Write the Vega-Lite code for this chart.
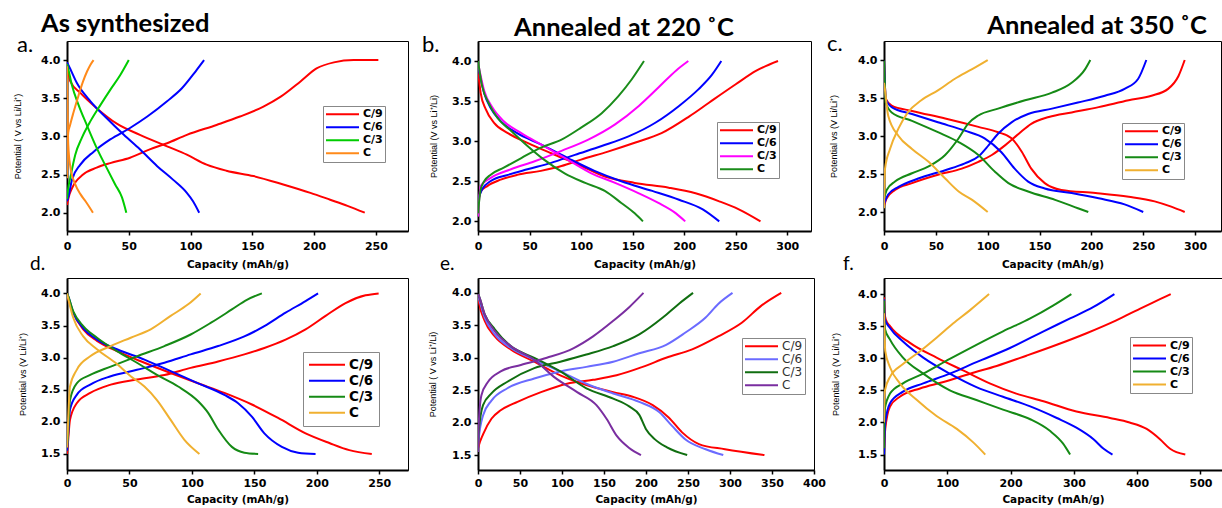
{
"$schema": "https://vega.github.io/schema/vega-lite/v6.json",
"background": "white",
"padding": {"left": 12, "top": 11, "right": 0, "bottom": 0},
"columns": 3,
"spacing": {"row": 47, "column": 70},
"bounds": "flush",
"align": "each",
"resolve": {"scale": {"color": "independent", "x": "independent", "y": "independent"}, "legend": {"color": "independent"}},
"datasets": {
"a": [
{"rate":"C/9","seg":"charge","cap":0,"v":2.1},{"rate":"C/9","seg":"charge","cap":1.3,"v":2.2},{"rate":"C/9","seg":"charge","cap":4,"v":2.32},{"rate":"C/9","seg":"charge","cap":13,"v":2.5},{"rate":"C/9","seg":"charge","cap":24,"v":2.59},{"rate":"C/9","seg":"charge","cap":35,"v":2.65},{"rate":"C/9","seg":"charge","cap":51,"v":2.72},{"rate":"C/9","seg":"charge","cap":67,"v":2.83},{"rate":"C/9","seg":"charge","cap":81,"v":2.91},{"rate":"C/9","seg":"charge","cap":97,"v":3.02},{"rate":"C/9","seg":"charge","cap":121,"v":3.15},{"rate":"C/9","seg":"charge","cap":140,"v":3.26},{"rate":"C/9","seg":"charge","cap":159,"v":3.39},{"rate":"C/9","seg":"charge","cap":173,"v":3.52},{"rate":"C/9","seg":"charge","cap":189,"v":3.72},{"rate":"C/9","seg":"charge","cap":202,"v":3.89},{"rate":"C/9","seg":"charge","cap":216,"v":3.97},{"rate":"C/9","seg":"charge","cap":232,"v":4.0},{"rate":"C/9","seg":"charge","cap":252,"v":4.0},
{"rate":"C/9","seg":"discharge","cap":0,"v":3.95},{"rate":"C/9","seg":"discharge","cap":1,"v":3.85},{"rate":"C/9","seg":"discharge","cap":2.7,"v":3.72},{"rate":"C/9","seg":"discharge","cap":10.8,"v":3.57},{"rate":"C/9","seg":"discharge","cap":24,"v":3.37},{"rate":"C/9","seg":"discharge","cap":40,"v":3.17},{"rate":"C/9","seg":"discharge","cap":59,"v":3.02},{"rate":"C/9","seg":"discharge","cap":81,"v":2.87},{"rate":"C/9","seg":"discharge","cap":97,"v":2.76},{"rate":"C/9","seg":"discharge","cap":113,"v":2.63},{"rate":"C/9","seg":"discharge","cap":129,"v":2.55},{"rate":"C/9","seg":"discharge","cap":151,"v":2.48},{"rate":"C/9","seg":"discharge","cap":175,"v":2.37},{"rate":"C/9","seg":"discharge","cap":197,"v":2.26},{"rate":"C/9","seg":"discharge","cap":213,"v":2.17},{"rate":"C/9","seg":"discharge","cap":227,"v":2.09},{"rate":"C/9","seg":"discharge","cap":241,"v":2.0},
{"rate":"C/6","seg":"charge","cap":0,"v":2.15},{"rate":"C/6","seg":"charge","cap":1.3,"v":2.22},{"rate":"C/6","seg":"charge","cap":4,"v":2.43},{"rate":"C/6","seg":"charge","cap":10.8,"v":2.63},{"rate":"C/6","seg":"charge","cap":21.6,"v":2.8},{"rate":"C/6","seg":"charge","cap":35,"v":2.96},{"rate":"C/6","seg":"charge","cap":51,"v":3.11},{"rate":"C/6","seg":"charge","cap":65,"v":3.26},{"rate":"C/6","seg":"charge","cap":81,"v":3.46},{"rate":"C/6","seg":"charge","cap":93,"v":3.63},{"rate":"C/6","seg":"charge","cap":104,"v":3.85},{"rate":"C/6","seg":"charge","cap":111,"v":4.0},
{"rate":"C/6","seg":"discharge","cap":0,"v":3.97},{"rate":"C/6","seg":"discharge","cap":1.3,"v":3.93},{"rate":"C/6","seg":"discharge","cap":8,"v":3.7},{"rate":"C/6","seg":"discharge","cap":19,"v":3.46},{"rate":"C/6","seg":"discharge","cap":32,"v":3.24},{"rate":"C/6","seg":"discharge","cap":46,"v":3.02},{"rate":"C/6","seg":"discharge","cap":59,"v":2.83},{"rate":"C/6","seg":"discharge","cap":73,"v":2.61},{"rate":"C/6","seg":"discharge","cap":86,"v":2.43},{"rate":"C/6","seg":"discharge","cap":97,"v":2.26},{"rate":"C/6","seg":"discharge","cap":102,"v":2.15},{"rate":"C/6","seg":"discharge","cap":107,"v":2.0},
{"rate":"C/3","seg":"charge","cap":0,"v":2.18},{"rate":"C/3","seg":"charge","cap":0.8,"v":2.3},{"rate":"C/3","seg":"charge","cap":2.7,"v":2.46},{"rate":"C/3","seg":"charge","cap":6.7,"v":2.76},{"rate":"C/3","seg":"charge","cap":12,"v":2.98},{"rate":"C/3","seg":"charge","cap":19,"v":3.2},{"rate":"C/3","seg":"charge","cap":27,"v":3.41},{"rate":"C/3","seg":"charge","cap":35,"v":3.61},{"rate":"C/3","seg":"charge","cap":43,"v":3.8},{"rate":"C/3","seg":"charge","cap":50,"v":4.0},
{"rate":"C/3","seg":"discharge","cap":0,"v":3.95},{"rate":"C/3","seg":"discharge","cap":0.8,"v":3.9},{"rate":"C/3","seg":"discharge","cap":4,"v":3.67},{"rate":"C/3","seg":"discharge","cap":9.4,"v":3.41},{"rate":"C/3","seg":"discharge","cap":16,"v":3.15},{"rate":"C/3","seg":"discharge","cap":24,"v":2.85},{"rate":"C/3","seg":"discharge","cap":32,"v":2.59},{"rate":"C/3","seg":"discharge","cap":39,"v":2.37},{"rate":"C/3","seg":"discharge","cap":44.5,"v":2.2},{"rate":"C/3","seg":"discharge","cap":48,"v":2.0},
{"rate":"C","seg":"charge","cap":0,"v":2.45},{"rate":"C","seg":"charge","cap":0.4,"v":2.8},{"rate":"C","seg":"charge","cap":1,"v":3.05},{"rate":"C","seg":"charge","cap":2.5,"v":3.15},{"rate":"C","seg":"charge","cap":5,"v":3.3},{"rate":"C","seg":"charge","cap":9.4,"v":3.54},{"rate":"C","seg":"charge","cap":13,"v":3.72},{"rate":"C","seg":"charge","cap":16.2,"v":3.85},{"rate":"C","seg":"charge","cap":19,"v":3.94},{"rate":"C","seg":"charge","cap":21.5,"v":4.0},
{"rate":"C","seg":"discharge","cap":0,"v":3.92},{"rate":"C","seg":"discharge","cap":0.5,"v":3.3},{"rate":"C","seg":"discharge","cap":1,"v":2.9},{"rate":"C","seg":"discharge","cap":2.7,"v":2.6},{"rate":"C","seg":"discharge","cap":6.7,"v":2.37},{"rate":"C","seg":"discharge","cap":11,"v":2.24},{"rate":"C","seg":"discharge","cap":15,"v":2.15},{"rate":"C","seg":"discharge","cap":21,"v":2.0}
],
"b": [
{"rate":"C/9","seg":"charge","cap":0,"v":2.23},{"rate":"C/9","seg":"charge","cap":2.6,"v":2.37},{"rate":"C/9","seg":"charge","cap":9,"v":2.44},{"rate":"C/9","seg":"charge","cap":22,"v":2.52},{"rate":"C/9","seg":"charge","cap":38,"v":2.58},{"rate":"C/9","seg":"charge","cap":61,"v":2.63},{"rate":"C/9","seg":"charge","cap":81,"v":2.69},{"rate":"C/9","seg":"charge","cap":100,"v":2.77},{"rate":"C/9","seg":"charge","cap":126,"v":2.87},{"rate":"C/9","seg":"charge","cap":152,"v":2.98},{"rate":"C/9","seg":"charge","cap":178,"v":3.1},{"rate":"C/9","seg":"charge","cap":205,"v":3.31},{"rate":"C/9","seg":"charge","cap":224,"v":3.48},{"rate":"C/9","seg":"charge","cap":250,"v":3.71},{"rate":"C/9","seg":"charge","cap":270,"v":3.88},{"rate":"C/9","seg":"charge","cap":291,"v":4.0},
{"rate":"C/9","seg":"discharge","cap":0,"v":3.88},{"rate":"C/9","seg":"discharge","cap":2.6,"v":3.6},{"rate":"C/9","seg":"discharge","cap":7.5,"v":3.4},{"rate":"C/9","seg":"discharge","cap":15.6,"v":3.23},{"rate":"C/9","seg":"discharge","cap":29,"v":3.1},{"rate":"C/9","seg":"discharge","cap":48,"v":2.98},{"rate":"C/9","seg":"discharge","cap":71,"v":2.85},{"rate":"C/9","seg":"discharge","cap":97,"v":2.71},{"rate":"C/9","seg":"discharge","cap":123,"v":2.56},{"rate":"C/9","seg":"discharge","cap":152,"v":2.48},{"rate":"C/9","seg":"discharge","cap":185,"v":2.42},{"rate":"C/9","seg":"discharge","cap":211,"v":2.35},{"rate":"C/9","seg":"discharge","cap":234,"v":2.25},{"rate":"C/9","seg":"discharge","cap":253,"v":2.15},{"rate":"C/9","seg":"discharge","cap":274,"v":2.0},
{"rate":"C/6","seg":"charge","cap":0,"v":2.27},{"rate":"C/6","seg":"charge","cap":4,"v":2.4},{"rate":"C/6","seg":"charge","cap":12,"v":2.5},{"rate":"C/6","seg":"charge","cap":29,"v":2.58},{"rate":"C/6","seg":"charge","cap":48,"v":2.65},{"rate":"C/6","seg":"charge","cap":71,"v":2.73},{"rate":"C/6","seg":"charge","cap":94,"v":2.83},{"rate":"C/6","seg":"charge","cap":120,"v":2.94},{"rate":"C/6","seg":"charge","cap":146,"v":3.06},{"rate":"C/6","seg":"charge","cap":172,"v":3.23},{"rate":"C/6","seg":"charge","cap":195,"v":3.44},{"rate":"C/6","seg":"charge","cap":214,"v":3.65},{"rate":"C/6","seg":"charge","cap":227,"v":3.83},{"rate":"C/6","seg":"charge","cap":236,"v":4.0},
{"rate":"C/6","seg":"discharge","cap":0,"v":3.94},{"rate":"C/6","seg":"discharge","cap":6,"v":3.6},{"rate":"C/6","seg":"discharge","cap":12,"v":3.42},{"rate":"C/6","seg":"discharge","cap":22,"v":3.25},{"rate":"C/6","seg":"discharge","cap":38,"v":3.1},{"rate":"C/6","seg":"discharge","cap":61,"v":2.96},{"rate":"C/6","seg":"discharge","cap":87,"v":2.79},{"rate":"C/6","seg":"discharge","cap":113,"v":2.63},{"rate":"C/6","seg":"discharge","cap":139,"v":2.5},{"rate":"C/6","seg":"discharge","cap":169,"v":2.38},{"rate":"C/6","seg":"discharge","cap":195,"v":2.27},{"rate":"C/6","seg":"discharge","cap":218,"v":2.15},{"rate":"C/6","seg":"discharge","cap":234,"v":2.0},
{"rate":"C/3","seg":"charge","cap":0,"v":2.06},{"rate":"C/3","seg":"charge","cap":2.6,"v":2.44},{"rate":"C/3","seg":"charge","cap":12,"v":2.54},{"rate":"C/3","seg":"charge","cap":32,"v":2.65},{"rate":"C/3","seg":"charge","cap":55,"v":2.75},{"rate":"C/3","seg":"charge","cap":81,"v":2.88},{"rate":"C/3","seg":"charge","cap":107,"v":3.02},{"rate":"C/3","seg":"charge","cap":133,"v":3.21},{"rate":"C/3","seg":"charge","cap":156,"v":3.44},{"rate":"C/3","seg":"charge","cap":175,"v":3.67},{"rate":"C/3","seg":"charge","cap":192,"v":3.88},{"rate":"C/3","seg":"charge","cap":204,"v":4.0},
{"rate":"C/3","seg":"discharge","cap":0,"v":3.98},{"rate":"C/3","seg":"discharge","cap":6,"v":3.63},{"rate":"C/3","seg":"discharge","cap":14,"v":3.42},{"rate":"C/3","seg":"discharge","cap":25,"v":3.25},{"rate":"C/3","seg":"discharge","cap":42,"v":3.1},{"rate":"C/3","seg":"discharge","cap":64,"v":2.94},{"rate":"C/3","seg":"discharge","cap":87,"v":2.77},{"rate":"C/3","seg":"discharge","cap":110,"v":2.6},{"rate":"C/3","seg":"discharge","cap":133,"v":2.48},{"rate":"C/3","seg":"discharge","cap":156,"v":2.35},{"rate":"C/3","seg":"discharge","cap":175,"v":2.23},{"rate":"C/3","seg":"discharge","cap":192,"v":2.1},{"rate":"C/3","seg":"discharge","cap":201,"v":2.0},
{"rate":"C","seg":"charge","cap":0,"v":2.1},{"rate":"C","seg":"charge","cap":2.6,"v":2.4},{"rate":"C","seg":"charge","cap":6,"v":2.5},{"rate":"C","seg":"charge","cap":12,"v":2.58},{"rate":"C","seg":"charge","cap":25,"v":2.67},{"rate":"C","seg":"charge","cap":42,"v":2.79},{"rate":"C","seg":"charge","cap":61,"v":2.92},{"rate":"C","seg":"charge","cap":81,"v":3.02},{"rate":"C","seg":"charge","cap":100,"v":3.17},{"rate":"C","seg":"charge","cap":120,"v":3.35},{"rate":"C","seg":"charge","cap":136,"v":3.56},{"rate":"C","seg":"charge","cap":149,"v":3.77},{"rate":"C","seg":"charge","cap":161,"v":4.0},
{"rate":"C","seg":"discharge","cap":0,"v":4.0},{"rate":"C","seg":"discharge","cap":4,"v":3.69},{"rate":"C","seg":"discharge","cap":11,"v":3.46},{"rate":"C","seg":"discharge","cap":19,"v":3.29},{"rate":"C","seg":"discharge","cap":32,"v":3.13},{"rate":"C","seg":"discharge","cap":48,"v":2.94},{"rate":"C","seg":"discharge","cap":64,"v":2.77},{"rate":"C","seg":"discharge","cap":84,"v":2.6},{"rate":"C","seg":"discharge","cap":104,"v":2.48},{"rate":"C","seg":"discharge","cap":123,"v":2.38},{"rate":"C","seg":"discharge","cap":139,"v":2.23},{"rate":"C","seg":"discharge","cap":152,"v":2.1},{"rate":"C","seg":"discharge","cap":160,"v":2.0}
],
"c": [
{"rate":"C/9","seg":"charge","cap":0,"v":2.08},{"rate":"C/9","seg":"charge","cap":2.6,"v":2.18},{"rate":"C/9","seg":"charge","cap":10.6,"v":2.29},{"rate":"C/9","seg":"charge","cap":27,"v":2.38},{"rate":"C/9","seg":"charge","cap":52,"v":2.49},{"rate":"C/9","seg":"charge","cap":75,"v":2.57},{"rate":"C/9","seg":"charge","cap":91,"v":2.66},{"rate":"C/9","seg":"charge","cap":104,"v":2.75},{"rate":"C/9","seg":"charge","cap":117,"v":2.88},{"rate":"C/9","seg":"charge","cap":130,"v":3.03},{"rate":"C/9","seg":"charge","cap":142,"v":3.16},{"rate":"C/9","seg":"charge","cap":159,"v":3.25},{"rate":"C/9","seg":"charge","cap":181,"v":3.31},{"rate":"C/9","seg":"charge","cap":207,"v":3.38},{"rate":"C/9","seg":"charge","cap":236,"v":3.47},{"rate":"C/9","seg":"charge","cap":258,"v":3.53},{"rate":"C/9","seg":"charge","cap":274,"v":3.62},{"rate":"C/9","seg":"charge","cap":284,"v":3.79},{"rate":"C/9","seg":"charge","cap":290,"v":4.0},
{"rate":"C/9","seg":"discharge","cap":0,"v":3.97},{"rate":"C/9","seg":"discharge","cap":0.8,"v":3.7},{"rate":"C/9","seg":"discharge","cap":1.6,"v":3.49},{"rate":"C/9","seg":"discharge","cap":7.4,"v":3.4},{"rate":"C/9","seg":"discharge","cap":27,"v":3.33},{"rate":"C/9","seg":"discharge","cap":59,"v":3.23},{"rate":"C/9","seg":"discharge","cap":91,"v":3.12},{"rate":"C/9","seg":"discharge","cap":110,"v":3.05},{"rate":"C/9","seg":"discharge","cap":123,"v":2.97},{"rate":"C/9","seg":"discharge","cap":133,"v":2.79},{"rate":"C/9","seg":"discharge","cap":142,"v":2.57},{"rate":"C/9","seg":"discharge","cap":155,"v":2.38},{"rate":"C/9","seg":"discharge","cap":171,"v":2.29},{"rate":"C/9","seg":"discharge","cap":204,"v":2.25},{"rate":"C/9","seg":"discharge","cap":236,"v":2.2},{"rate":"C/9","seg":"discharge","cap":261,"v":2.14},{"rate":"C/9","seg":"discharge","cap":277,"v":2.07},{"rate":"C/9","seg":"discharge","cap":290,"v":2.0},
{"rate":"C/6","seg":"charge","cap":0,"v":2.1},{"rate":"C/6","seg":"charge","cap":4,"v":2.23},{"rate":"C/6","seg":"charge","cap":14,"v":2.33},{"rate":"C/6","seg":"charge","cap":33,"v":2.44},{"rate":"C/6","seg":"charge","cap":59,"v":2.55},{"rate":"C/6","seg":"charge","cap":78,"v":2.64},{"rate":"C/6","seg":"charge","cap":91,"v":2.73},{"rate":"C/6","seg":"charge","cap":101,"v":2.88},{"rate":"C/6","seg":"charge","cap":110,"v":3.03},{"rate":"C/6","seg":"charge","cap":123,"v":3.18},{"rate":"C/6","seg":"charge","cap":139,"v":3.29},{"rate":"C/6","seg":"charge","cap":162,"v":3.36},{"rate":"C/6","seg":"charge","cap":187,"v":3.44},{"rate":"C/6","seg":"charge","cap":213,"v":3.53},{"rate":"C/6","seg":"charge","cap":232,"v":3.62},{"rate":"C/6","seg":"charge","cap":245,"v":3.75},{"rate":"C/6","seg":"charge","cap":253,"v":4.0},
{"rate":"C/6","seg":"discharge","cap":0,"v":3.99},{"rate":"C/6","seg":"discharge","cap":0.8,"v":3.7},{"rate":"C/6","seg":"discharge","cap":1.6,"v":3.49},{"rate":"C/6","seg":"discharge","cap":7.4,"v":3.38},{"rate":"C/6","seg":"discharge","cap":27,"v":3.29},{"rate":"C/6","seg":"discharge","cap":52,"v":3.18},{"rate":"C/6","seg":"discharge","cap":78,"v":3.07},{"rate":"C/6","seg":"discharge","cap":97,"v":2.97},{"rate":"C/6","seg":"discharge","cap":113,"v":2.79},{"rate":"C/6","seg":"discharge","cap":126,"v":2.57},{"rate":"C/6","seg":"discharge","cap":139,"v":2.4},{"rate":"C/6","seg":"discharge","cap":155,"v":2.31},{"rate":"C/6","seg":"discharge","cap":181,"v":2.25},{"rate":"C/6","seg":"discharge","cap":207,"v":2.18},{"rate":"C/6","seg":"discharge","cap":232,"v":2.1},{"rate":"C/6","seg":"discharge","cap":250,"v":2.0},
{"rate":"C/3","seg":"charge","cap":0,"v":2.18},{"rate":"C/3","seg":"charge","cap":2.6,"v":2.29},{"rate":"C/3","seg":"charge","cap":10.6,"v":2.4},{"rate":"C/3","seg":"charge","cap":27,"v":2.51},{"rate":"C/3","seg":"charge","cap":43,"v":2.6},{"rate":"C/3","seg":"charge","cap":59,"v":2.75},{"rate":"C/3","seg":"charge","cap":72,"v":2.97},{"rate":"C/3","seg":"charge","cap":81,"v":3.16},{"rate":"C/3","seg":"charge","cap":91,"v":3.27},{"rate":"C/3","seg":"charge","cap":110,"v":3.36},{"rate":"C/3","seg":"charge","cap":136,"v":3.47},{"rate":"C/3","seg":"charge","cap":162,"v":3.57},{"rate":"C/3","seg":"charge","cap":181,"v":3.7},{"rate":"C/3","seg":"charge","cap":194,"v":3.88},{"rate":"C/3","seg":"charge","cap":199,"v":4.0},
{"rate":"C/3","seg":"discharge","cap":0,"v":3.99},{"rate":"C/3","seg":"discharge","cap":0.8,"v":3.7},{"rate":"C/3","seg":"discharge","cap":1.6,"v":3.44},{"rate":"C/3","seg":"discharge","cap":7.4,"v":3.31},{"rate":"C/3","seg":"discharge","cap":27,"v":3.2},{"rate":"C/3","seg":"discharge","cap":52,"v":3.05},{"rate":"C/3","seg":"discharge","cap":72,"v":2.92},{"rate":"C/3","seg":"discharge","cap":91,"v":2.75},{"rate":"C/3","seg":"discharge","cap":107,"v":2.53},{"rate":"C/3","seg":"discharge","cap":120,"v":2.38},{"rate":"C/3","seg":"discharge","cap":139,"v":2.27},{"rate":"C/3","seg":"discharge","cap":165,"v":2.16},{"rate":"C/3","seg":"discharge","cap":187,"v":2.05},{"rate":"C/3","seg":"discharge","cap":197,"v":2.0},
{"rate":"C","seg":"charge","cap":0,"v":2.05},{"rate":"C","seg":"charge","cap":1,"v":2.57},{"rate":"C","seg":"charge","cap":5.8,"v":2.83},{"rate":"C","seg":"charge","cap":14,"v":3.1},{"rate":"C","seg":"charge","cap":23,"v":3.31},{"rate":"C","seg":"charge","cap":36,"v":3.47},{"rate":"C","seg":"charge","cap":52,"v":3.6},{"rate":"C","seg":"charge","cap":68,"v":3.75},{"rate":"C","seg":"charge","cap":85,"v":3.88},{"rate":"C","seg":"charge","cap":100,"v":4.0},
{"rate":"C","seg":"discharge","cap":0,"v":3.7},{"rate":"C","seg":"discharge","cap":1,"v":3.6},{"rate":"C","seg":"discharge","cap":4,"v":3.27},{"rate":"C","seg":"discharge","cap":14,"v":3.0},{"rate":"C","seg":"discharge","cap":27,"v":2.83},{"rate":"C","seg":"discharge","cap":43,"v":2.66},{"rate":"C","seg":"discharge","cap":59,"v":2.44},{"rate":"C","seg":"discharge","cap":72,"v":2.27},{"rate":"C","seg":"discharge","cap":85,"v":2.16},{"rate":"C","seg":"discharge","cap":100,"v":2.0}
],
"d": [
{"rate":"C/9","seg":"charge","cap":0,"v":1.5},{"rate":"C/9","seg":"charge","cap":0.5,"v":1.61},{"rate":"C/9","seg":"charge","cap":2.4,"v":2.03},{"rate":"C/9","seg":"charge","cap":7.8,"v":2.29},{"rate":"C/9","seg":"charge","cap":18.6,"v":2.45},{"rate":"C/9","seg":"charge","cap":35,"v":2.58},{"rate":"C/9","seg":"charge","cap":56,"v":2.66},{"rate":"C/9","seg":"charge","cap":78,"v":2.73},{"rate":"C/9","seg":"charge","cap":99,"v":2.84},{"rate":"C/9","seg":"charge","cap":121,"v":2.94},{"rate":"C/9","seg":"charge","cap":142,"v":3.05},{"rate":"C/9","seg":"charge","cap":158,"v":3.15},{"rate":"C/9","seg":"charge","cap":175,"v":3.28},{"rate":"C/9","seg":"charge","cap":191,"v":3.44},{"rate":"C/9","seg":"charge","cap":207,"v":3.65},{"rate":"C/9","seg":"charge","cap":223,"v":3.85},{"rate":"C/9","seg":"charge","cap":239,"v":3.97},{"rate":"C/9","seg":"charge","cap":249.5,"v":4.0},
{"rate":"C/9","seg":"discharge","cap":0,"v":4.0},{"rate":"C/9","seg":"discharge","cap":0.5,"v":3.96},{"rate":"C/9","seg":"discharge","cap":5,"v":3.7},{"rate":"C/9","seg":"discharge","cap":13,"v":3.44},{"rate":"C/9","seg":"discharge","cap":24,"v":3.26},{"rate":"C/9","seg":"discharge","cap":40,"v":3.1},{"rate":"C/9","seg":"discharge","cap":62,"v":2.92},{"rate":"C/9","seg":"discharge","cap":83,"v":2.76},{"rate":"C/9","seg":"discharge","cap":105,"v":2.6},{"rate":"C/9","seg":"discharge","cap":126,"v":2.45},{"rate":"C/9","seg":"discharge","cap":148,"v":2.27},{"rate":"C/9","seg":"discharge","cap":169,"v":2.06},{"rate":"C/9","seg":"discharge","cap":191,"v":1.82},{"rate":"C/9","seg":"discharge","cap":210,"v":1.67},{"rate":"C/9","seg":"discharge","cap":226,"v":1.56},{"rate":"C/9","seg":"discharge","cap":244,"v":1.5},
{"rate":"C/6","seg":"charge","cap":0,"v":1.55},{"rate":"C/6","seg":"charge","cap":0.5,"v":1.67},{"rate":"C/6","seg":"charge","cap":2.4,"v":2.19},{"rate":"C/6","seg":"charge","cap":7.8,"v":2.42},{"rate":"C/6","seg":"charge","cap":18.6,"v":2.58},{"rate":"C/6","seg":"charge","cap":35,"v":2.71},{"rate":"C/6","seg":"charge","cap":56,"v":2.81},{"rate":"C/6","seg":"charge","cap":78,"v":2.92},{"rate":"C/6","seg":"charge","cap":99,"v":3.05},{"rate":"C/6","seg":"charge","cap":121,"v":3.18},{"rate":"C/6","seg":"charge","cap":142,"v":3.33},{"rate":"C/6","seg":"charge","cap":158,"v":3.49},{"rate":"C/6","seg":"charge","cap":175,"v":3.7},{"rate":"C/6","seg":"charge","cap":191,"v":3.88},{"rate":"C/6","seg":"charge","cap":201,"v":4.0},
{"rate":"C/6","seg":"discharge","cap":0,"v":4.0},{"rate":"C/6","seg":"discharge","cap":0.5,"v":3.98},{"rate":"C/6","seg":"discharge","cap":5,"v":3.7},{"rate":"C/6","seg":"discharge","cap":13,"v":3.46},{"rate":"C/6","seg":"discharge","cap":24,"v":3.28},{"rate":"C/6","seg":"discharge","cap":40,"v":3.13},{"rate":"C/6","seg":"discharge","cap":62,"v":2.97},{"rate":"C/6","seg":"discharge","cap":83,"v":2.79},{"rate":"C/6","seg":"discharge","cap":105,"v":2.6},{"rate":"C/6","seg":"discharge","cap":126,"v":2.42},{"rate":"C/6","seg":"discharge","cap":137,"v":2.29},{"rate":"C/6","seg":"discharge","cap":148,"v":2.08},{"rate":"C/6","seg":"discharge","cap":158,"v":1.82},{"rate":"C/6","seg":"discharge","cap":172,"v":1.61},{"rate":"C/6","seg":"discharge","cap":185,"v":1.52},{"rate":"C/6","seg":"discharge","cap":199,"v":1.5},
{"rate":"C/3","seg":"charge","cap":0,"v":1.6},{"rate":"C/3","seg":"charge","cap":0.5,"v":1.72},{"rate":"C/3","seg":"charge","cap":2.4,"v":2.34},{"rate":"C/3","seg":"charge","cap":7.8,"v":2.6},{"rate":"C/3","seg":"charge","cap":18.6,"v":2.73},{"rate":"C/3","seg":"charge","cap":35,"v":2.86},{"rate":"C/3","seg":"charge","cap":56,"v":3.02},{"rate":"C/3","seg":"charge","cap":78,"v":3.18},{"rate":"C/3","seg":"charge","cap":99,"v":3.36},{"rate":"C/3","seg":"charge","cap":115,"v":3.54},{"rate":"C/3","seg":"charge","cap":132,"v":3.75},{"rate":"C/3","seg":"charge","cap":144,"v":3.9},{"rate":"C/3","seg":"charge","cap":156,"v":4.0},
{"rate":"C/3","seg":"discharge","cap":0,"v":4.0},{"rate":"C/3","seg":"discharge","cap":0.5,"v":3.98},{"rate":"C/3","seg":"discharge","cap":5,"v":3.72},{"rate":"C/3","seg":"discharge","cap":13,"v":3.49},{"rate":"C/3","seg":"discharge","cap":24,"v":3.31},{"rate":"C/3","seg":"discharge","cap":40,"v":3.1},{"rate":"C/3","seg":"discharge","cap":56,"v":2.92},{"rate":"C/3","seg":"discharge","cap":72,"v":2.73},{"rate":"C/3","seg":"discharge","cap":89,"v":2.55},{"rate":"C/3","seg":"discharge","cap":105,"v":2.32},{"rate":"C/3","seg":"discharge","cap":113,"v":2.14},{"rate":"C/3","seg":"discharge","cap":121,"v":1.88},{"rate":"C/3","seg":"discharge","cap":132,"v":1.61},{"rate":"C/3","seg":"discharge","cap":142,"v":1.52},{"rate":"C/3","seg":"discharge","cap":153,"v":1.5},
{"rate":"C","seg":"charge","cap":0,"v":1.6},{"rate":"C","seg":"charge","cap":0.5,"v":1.82},{"rate":"C","seg":"charge","cap":2.4,"v":2.55},{"rate":"C","seg":"charge","cap":7.8,"v":2.81},{"rate":"C","seg":"charge","cap":18.6,"v":3.02},{"rate":"C","seg":"charge","cap":35,"v":3.18},{"rate":"C","seg":"charge","cap":51,"v":3.31},{"rate":"C","seg":"charge","cap":67,"v":3.44},{"rate":"C","seg":"charge","cap":83,"v":3.65},{"rate":"C","seg":"charge","cap":97,"v":3.83},{"rate":"C","seg":"charge","cap":107,"v":4.0},
{"rate":"C","seg":"discharge","cap":0,"v":4.0},{"rate":"C","seg":"discharge","cap":0.5,"v":3.96},{"rate":"C","seg":"discharge","cap":5,"v":3.62},{"rate":"C","seg":"discharge","cap":13,"v":3.33},{"rate":"C","seg":"discharge","cap":24,"v":3.13},{"rate":"C","seg":"discharge","cap":40,"v":2.9},{"rate":"C","seg":"discharge","cap":51,"v":2.71},{"rate":"C","seg":"discharge","cap":62,"v":2.55},{"rate":"C","seg":"discharge","cap":72,"v":2.34},{"rate":"C","seg":"discharge","cap":83,"v":2.03},{"rate":"C","seg":"discharge","cap":94,"v":1.72},{"rate":"C","seg":"discharge","cap":106,"v":1.5}
],
"e": [
{"rate":"C/9","seg":"charge","cap":0,"v":1.6},{"rate":"C/9","seg":"charge","cap":0.8,"v":1.64},{"rate":"C/9","seg":"charge","cap":6,"v":1.82},{"rate":"C/9","seg":"charge","cap":16,"v":2.06},{"rate":"C/9","seg":"charge","cap":27,"v":2.19},{"rate":"C/9","seg":"charge","cap":47,"v":2.32},{"rate":"C/9","seg":"charge","cap":75,"v":2.47},{"rate":"C/9","seg":"charge","cap":106,"v":2.6},{"rate":"C/9","seg":"charge","cap":137,"v":2.66},{"rate":"C/9","seg":"charge","cap":165,"v":2.73},{"rate":"C/9","seg":"charge","cap":196,"v":2.86},{"rate":"C/9","seg":"charge","cap":224,"v":3.0},{"rate":"C/9","seg":"charge","cap":255,"v":3.13},{"rate":"C/9","seg":"charge","cap":286,"v":3.33},{"rate":"C/9","seg":"charge","cap":314,"v":3.54},{"rate":"C/9","seg":"charge","cap":337,"v":3.8},{"rate":"C/9","seg":"charge","cap":361,"v":4.0},
{"rate":"C/9","seg":"discharge","cap":0,"v":3.95},{"rate":"C/9","seg":"discharge","cap":0.8,"v":3.88},{"rate":"C/9","seg":"discharge","cap":8,"v":3.57},{"rate":"C/9","seg":"discharge","cap":20,"v":3.33},{"rate":"C/9","seg":"discharge","cap":39,"v":3.13},{"rate":"C/9","seg":"discharge","cap":67,"v":2.94},{"rate":"C/9","seg":"discharge","cap":98,"v":2.73},{"rate":"C/9","seg":"discharge","cap":129,"v":2.58},{"rate":"C/9","seg":"discharge","cap":161,"v":2.47},{"rate":"C/9","seg":"discharge","cap":184,"v":2.4},{"rate":"C/9","seg":"discharge","cap":208,"v":2.27},{"rate":"C/9","seg":"discharge","cap":227,"v":2.08},{"rate":"C/9","seg":"discharge","cap":243,"v":1.85},{"rate":"C/9","seg":"discharge","cap":263,"v":1.67},{"rate":"C/9","seg":"discharge","cap":294,"v":1.59},{"rate":"C/9","seg":"discharge","cap":341,"v":1.5},
{"rate":"C/6","seg":"charge","cap":0,"v":1.55},{"rate":"C/6","seg":"charge","cap":0.8,"v":1.74},{"rate":"C/6","seg":"charge","cap":6,"v":2.11},{"rate":"C/6","seg":"charge","cap":16,"v":2.34},{"rate":"C/6","seg":"charge","cap":35,"v":2.53},{"rate":"C/6","seg":"charge","cap":67,"v":2.68},{"rate":"C/6","seg":"charge","cap":98,"v":2.79},{"rate":"C/6","seg":"charge","cap":129,"v":2.86},{"rate":"C/6","seg":"charge","cap":161,"v":2.94},{"rate":"C/6","seg":"charge","cap":192,"v":3.07},{"rate":"C/6","seg":"charge","cap":224,"v":3.2},{"rate":"C/6","seg":"charge","cap":247,"v":3.39},{"rate":"C/6","seg":"charge","cap":271,"v":3.62},{"rate":"C/6","seg":"charge","cap":286,"v":3.83},{"rate":"C/6","seg":"charge","cap":303,"v":4.0},
{"rate":"C/6","seg":"discharge","cap":0,"v":3.97},{"rate":"C/6","seg":"discharge","cap":0.8,"v":3.93},{"rate":"C/6","seg":"discharge","cap":8,"v":3.62},{"rate":"C/6","seg":"discharge","cap":20,"v":3.36},{"rate":"C/6","seg":"discharge","cap":39,"v":3.15},{"rate":"C/6","seg":"discharge","cap":67,"v":2.97},{"rate":"C/6","seg":"discharge","cap":98,"v":2.79},{"rate":"C/6","seg":"discharge","cap":129,"v":2.6},{"rate":"C/6","seg":"discharge","cap":161,"v":2.45},{"rate":"C/6","seg":"discharge","cap":192,"v":2.32},{"rate":"C/6","seg":"discharge","cap":216,"v":2.16},{"rate":"C/6","seg":"discharge","cap":231,"v":1.95},{"rate":"C/6","seg":"discharge","cap":247,"v":1.74},{"rate":"C/6","seg":"discharge","cap":271,"v":1.59},{"rate":"C/6","seg":"discharge","cap":292,"v":1.5},
{"rate":"C/3","seg":"charge","cap":0,"v":1.6},{"rate":"C/3","seg":"charge","cap":0.8,"v":1.85},{"rate":"C/3","seg":"charge","cap":6,"v":2.27},{"rate":"C/3","seg":"charge","cap":16,"v":2.45},{"rate":"C/3","seg":"charge","cap":35,"v":2.63},{"rate":"C/3","seg":"charge","cap":67,"v":2.84},{"rate":"C/3","seg":"charge","cap":98,"v":2.94},{"rate":"C/3","seg":"charge","cap":129,"v":3.05},{"rate":"C/3","seg":"charge","cap":161,"v":3.18},{"rate":"C/3","seg":"charge","cap":192,"v":3.36},{"rate":"C/3","seg":"charge","cap":220,"v":3.62},{"rate":"C/3","seg":"charge","cap":239,"v":3.83},{"rate":"C/3","seg":"charge","cap":256,"v":4.0},
{"rate":"C/3","seg":"discharge","cap":0,"v":3.98},{"rate":"C/3","seg":"discharge","cap":0.8,"v":3.96},{"rate":"C/3","seg":"discharge","cap":8,"v":3.67},{"rate":"C/3","seg":"discharge","cap":20,"v":3.44},{"rate":"C/3","seg":"discharge","cap":39,"v":3.18},{"rate":"C/3","seg":"discharge","cap":67,"v":3.0},{"rate":"C/3","seg":"discharge","cap":98,"v":2.79},{"rate":"C/3","seg":"discharge","cap":129,"v":2.53},{"rate":"C/3","seg":"discharge","cap":161,"v":2.37},{"rate":"C/3","seg":"discharge","cap":180,"v":2.25},{"rate":"C/3","seg":"discharge","cap":192,"v":2.12},{"rate":"C/3","seg":"discharge","cap":200,"v":1.9},{"rate":"C/3","seg":"discharge","cap":210,"v":1.75},{"rate":"C/3","seg":"discharge","cap":225,"v":1.62},{"rate":"C/3","seg":"discharge","cap":249,"v":1.5},
{"rate":"C","seg":"charge","cap":0,"v":1.55},{"rate":"C","seg":"charge","cap":0.8,"v":1.95},{"rate":"C","seg":"charge","cap":4,"v":2.42},{"rate":"C","seg":"charge","cap":12,"v":2.63},{"rate":"C","seg":"charge","cap":27,"v":2.79},{"rate":"C","seg":"charge","cap":51,"v":2.89},{"rate":"C","seg":"charge","cap":82,"v":3.0},{"rate":"C","seg":"charge","cap":114,"v":3.15},{"rate":"C","seg":"charge","cap":137,"v":3.33},{"rate":"C","seg":"charge","cap":161,"v":3.57},{"rate":"C","seg":"charge","cap":180,"v":3.78},{"rate":"C","seg":"charge","cap":197,"v":4.0},
{"rate":"C","seg":"discharge","cap":0,"v":3.98},{"rate":"C","seg":"discharge","cap":0.8,"v":3.96},{"rate":"C","seg":"discharge","cap":8,"v":3.67},{"rate":"C","seg":"discharge","cap":20,"v":3.41},{"rate":"C","seg":"discharge","cap":39,"v":3.18},{"rate":"C","seg":"discharge","cap":67,"v":2.97},{"rate":"C","seg":"discharge","cap":90,"v":2.71},{"rate":"C","seg":"discharge","cap":118,"v":2.47},{"rate":"C","seg":"discharge","cap":141,"v":2.27},{"rate":"C","seg":"discharge","cap":153,"v":2.06},{"rate":"C","seg":"discharge","cap":165,"v":1.8},{"rate":"C","seg":"discharge","cap":180,"v":1.61},{"rate":"C","seg":"discharge","cap":194,"v":1.5}
],
"f": [
{"rate":"C/9","seg":"charge","cap":0,"v":1.55},{"rate":"C/9","seg":"charge","cap":2,"v":1.9},{"rate":"C/9","seg":"charge","cap":9.5,"v":2.25},{"rate":"C/9","seg":"charge","cap":25,"v":2.4},{"rate":"C/9","seg":"charge","cap":57,"v":2.53},{"rate":"C/9","seg":"charge","cap":94,"v":2.63},{"rate":"C/9","seg":"charge","cap":136,"v":2.76},{"rate":"C/9","seg":"charge","cap":178,"v":2.88},{"rate":"C/9","seg":"charge","cap":225,"v":3.04},{"rate":"C/9","seg":"charge","cap":273,"v":3.21},{"rate":"C/9","seg":"charge","cap":320,"v":3.39},{"rate":"C/9","seg":"charge","cap":367,"v":3.59},{"rate":"C/9","seg":"charge","cap":404,"v":3.77},{"rate":"C/9","seg":"charge","cap":436,"v":3.92},{"rate":"C/9","seg":"charge","cap":453,"v":4.0},
{"rate":"C/9","seg":"discharge","cap":0,"v":3.95},{"rate":"C/9","seg":"discharge","cap":1,"v":3.7},{"rate":"C/9","seg":"discharge","cap":3,"v":3.6},{"rate":"C/9","seg":"discharge","cap":9.5,"v":3.5},{"rate":"C/9","seg":"discharge","cap":41,"v":3.24},{"rate":"C/9","seg":"discharge","cap":83,"v":3.01},{"rate":"C/9","seg":"discharge","cap":125,"v":2.81},{"rate":"C/9","seg":"discharge","cap":167,"v":2.61},{"rate":"C/9","seg":"discharge","cap":209,"v":2.45},{"rate":"C/9","seg":"discharge","cap":252,"v":2.33},{"rate":"C/9","seg":"discharge","cap":304,"v":2.17},{"rate":"C/9","seg":"discharge","cap":357,"v":2.07},{"rate":"C/9","seg":"discharge","cap":388,"v":2.0},{"rate":"C/9","seg":"discharge","cap":415,"v":1.9},{"rate":"C/9","seg":"discharge","cap":436,"v":1.74},{"rate":"C/9","seg":"discharge","cap":452,"v":1.59},{"rate":"C/9","seg":"discharge","cap":476,"v":1.5},
{"rate":"C/6","seg":"charge","cap":0,"v":1.5},{"rate":"C/6","seg":"charge","cap":2,"v":2.0},{"rate":"C/6","seg":"charge","cap":9.5,"v":2.3},{"rate":"C/6","seg":"charge","cap":30,"v":2.48},{"rate":"C/6","seg":"charge","cap":62,"v":2.61},{"rate":"C/6","seg":"charge","cap":104,"v":2.76},{"rate":"C/6","seg":"charge","cap":146,"v":2.94},{"rate":"C/6","seg":"charge","cap":199,"v":3.16},{"rate":"C/6","seg":"charge","cap":252,"v":3.42},{"rate":"C/6","seg":"charge","cap":294,"v":3.62},{"rate":"C/6","seg":"charge","cap":331,"v":3.8},{"rate":"C/6","seg":"charge","cap":364,"v":4.0},
{"rate":"C/6","seg":"discharge","cap":0,"v":3.92},{"rate":"C/6","seg":"discharge","cap":1,"v":3.62},{"rate":"C/6","seg":"discharge","cap":9.5,"v":3.47},{"rate":"C/6","seg":"discharge","cap":30,"v":3.26},{"rate":"C/6","seg":"discharge","cap":62,"v":3.01},{"rate":"C/6","seg":"discharge","cap":104,"v":2.76},{"rate":"C/6","seg":"discharge","cap":146,"v":2.55},{"rate":"C/6","seg":"discharge","cap":188,"v":2.4},{"rate":"C/6","seg":"discharge","cap":231,"v":2.25},{"rate":"C/6","seg":"discharge","cap":273,"v":2.07},{"rate":"C/6","seg":"discharge","cap":304,"v":1.92},{"rate":"C/6","seg":"discharge","cap":331,"v":1.74},{"rate":"C/6","seg":"discharge","cap":347,"v":1.59},{"rate":"C/6","seg":"discharge","cap":361,"v":1.5},
{"rate":"C/3","seg":"charge","cap":0,"v":1.6},{"rate":"C/3","seg":"charge","cap":1,"v":2.2},{"rate":"C/3","seg":"charge","cap":9.5,"v":2.45},{"rate":"C/3","seg":"charge","cap":30,"v":2.61},{"rate":"C/3","seg":"charge","cap":62,"v":2.76},{"rate":"C/3","seg":"charge","cap":104,"v":2.99},{"rate":"C/3","seg":"charge","cap":146,"v":3.21},{"rate":"C/3","seg":"charge","cap":188,"v":3.42},{"rate":"C/3","seg":"charge","cap":231,"v":3.62},{"rate":"C/3","seg":"charge","cap":267,"v":3.82},{"rate":"C/3","seg":"charge","cap":296,"v":4.0},
{"rate":"C/3","seg":"discharge","cap":0,"v":3.9},{"rate":"C/3","seg":"discharge","cap":1,"v":3.47},{"rate":"C/3","seg":"discharge","cap":9.5,"v":3.29},{"rate":"C/3","seg":"discharge","cap":30,"v":3.01},{"rate":"C/3","seg":"discharge","cap":62,"v":2.76},{"rate":"C/3","seg":"discharge","cap":104,"v":2.5},{"rate":"C/3","seg":"discharge","cap":146,"v":2.35},{"rate":"C/3","seg":"discharge","cap":188,"v":2.2},{"rate":"C/3","seg":"discharge","cap":231,"v":2.05},{"rate":"C/3","seg":"discharge","cap":262,"v":1.87},{"rate":"C/3","seg":"discharge","cap":283,"v":1.67},{"rate":"C/3","seg":"discharge","cap":294,"v":1.5},
{"rate":"C","seg":"charge","cap":0,"v":2.0},{"rate":"C","seg":"charge","cap":0.5,"v":2.4},{"rate":"C","seg":"charge","cap":1.5,"v":2.5},{"rate":"C","seg":"charge","cap":9.5,"v":2.71},{"rate":"C","seg":"charge","cap":30,"v":2.91},{"rate":"C","seg":"charge","cap":57,"v":3.11},{"rate":"C","seg":"charge","cap":83,"v":3.32},{"rate":"C","seg":"charge","cap":109,"v":3.54},{"rate":"C","seg":"charge","cap":136,"v":3.75},{"rate":"C","seg":"charge","cap":166,"v":4.0},
{"rate":"C","seg":"discharge","cap":0,"v":3.7},{"rate":"C","seg":"discharge","cap":2,"v":3.11},{"rate":"C","seg":"discharge","cap":9.5,"v":2.86},{"rate":"C","seg":"discharge","cap":25,"v":2.61},{"rate":"C","seg":"discharge","cap":52,"v":2.35},{"rate":"C","seg":"discharge","cap":83,"v":2.1},{"rate":"C","seg":"discharge","cap":115,"v":1.9},{"rate":"C","seg":"discharge","cap":141,"v":1.69},{"rate":"C","seg":"discharge","cap":160,"v":1.5}
]
},
"concat": [
{
"data": {"name": "a"}, "width": 341, "height": 190,
"title": {"text": "\u200b\u00a0\u00a0\u00a0\u00a0As synthesized", "subtitle": "a.", "dx": -50, "offset": -15, "subtitlePadding": -2},
"mark": {"type": "line", "interpolate": "monotone", "strokeWidth": 2, "clip": true},
"encoding": {
"x": {"field": "cap", "type": "quantitative", "scale": {"domain": [0, 276], "nice": false, "zero": false}, "axis": {"values": [0, 50, 100, 150, 200, 250], "title": "Capacity (mAh/g)", "titleY": 33}},
"y": {"field": "v", "type": "quantitative", "scale": {"domain": [1.76, 4.25], "nice": false, "zero": false}, "axis": {"values": [2, 2.5, 3, 3.5, 4], "title": "Potential ( V vs Li/Li\u207a)", "titleX": -50}},
"color": {"field": "rate", "type": "nominal", "scale": {"domain": ["C/9", "C/6", "C/3", "C"], "range": ["#ff0000", "#0000ff", "#00cc00", "#ff8a1a"]}, "legend": {"legendX": 256, "legendY": 65}},
"detail": {"field": "seg"}
}
},
{
"data": {"name": "b"}, "width": 333, "height": 190,
"title": {"text": "\u200b\u00a0\u00a0\u00a0\u00a0\u00a0\u00a0\u00a0\u00a0\u00a0\u00a0\u00a0\u00a0\u00a0\u00a0\u00a0Annealed at 220 \u02daC", "subtitle": "b.", "dx": -56, "offset": -15, "subtitlePadding": -6},
"mark": {"type": "line", "interpolate": "monotone", "strokeWidth": 2, "clip": true},
"encoding": {
"x": {"field": "cap", "type": "quantitative", "scale": {"domain": [0, 323], "nice": false, "zero": false}, "axis": {"values": [0, 50, 100, 150, 200, 250, 300], "title": "Capacity (mAh/g)", "titleY": 33}},
"y": {"field": "v", "type": "quantitative", "scale": {"domain": [1.88, 4.25], "nice": false, "zero": false}, "axis": {"values": [2, 2.5, 3, 3.5, 4], "title": "Potential (V vs Li\u207a/Li)", "titleX": -45}},
"color": {"field": "rate", "type": "nominal", "scale": {"domain": ["C/9", "C/6", "C/3", "C"], "range": ["#ff0000", "#0000ff", "#ff00ff", "#1a8c1a"]}, "legend": {"legendX": 239, "legendY": 81}},
"detail": {"field": "seg"}
}
},
{
"data": {"name": "c"}, "width": 337, "height": 190,
"title": {"text": "\u200b\u00a0\u00a0\u00a0\u00a0\u00a0\u00a0\u00a0\u00a0\u00a0\u00a0\u00a0\u00a0\u00a0\u00a0\u00a0\u00a0\u00a0\u00a0\u00a0\u00a0\u00a0\u00a0\u00a0\u00a0\u00a0\u00a0Annealed at 350 \u02daC", "subtitle": "c.", "dx": -57, "offset": -14, "subtitlePadding": -5},
"mark": {"type": "line", "interpolate": "monotone", "strokeWidth": 2, "clip": true},
"encoding": {
"x": {"field": "cap", "type": "quantitative", "scale": {"domain": [0, 325], "nice": false, "zero": false}, "axis": {"values": [0, 50, 100, 150, 200, 250, 300], "title": "Capacity (mAh/g)", "titleY": 33}},
"y": {"field": "v", "type": "quantitative", "scale": {"domain": [1.75, 4.25], "nice": false, "zero": false}, "axis": {"values": [2, 2.5, 3, 3.5, 4], "title": "Potential vs (V Li/Li\u207a)", "titleX": -51}},
"color": {"field": "rate", "type": "nominal", "scale": {"domain": ["C/9", "C/6", "C/3", "C"], "range": ["#ff0000", "#0000ff", "#158a15", "#f0b030"]}, "legend": {"legendX": 238, "legendY": 82}},
"detail": {"field": "seg"}
}
},
{
"data": {"name": "d"}, "width": 341, "height": 192,
"title": {"text": "d.", "dx": -37, "offset": 4, "fontSize": 19, "fontWeight": "normal"},
"mark": {"type": "line", "interpolate": "monotone", "strokeWidth": 2, "clip": true},
"encoding": {
"x": {"field": "cap", "type": "quantitative", "scale": {"domain": [0, 273], "nice": false, "zero": false}, "axis": {"values": [0, 50, 100, 150, 200, 250], "title": "Capacity (mAh/g)", "titleY": 29, "labelPadding": 3}},
"y": {"field": "v", "type": "quantitative", "scale": {"domain": [1.25, 4.24], "nice": false, "zero": false}, "axis": {"values": [1.5, 2, 2.5, 3, 3.5, 4], "title": "Potential vs (V Li/Li\u207a)", "titleX": -45}},
"color": {"field": "rate", "type": "nominal", "scale": {"domain": ["C/9", "C/6", "C/3", "C"], "range": ["#ff0000", "#0000ff", "#158a15", "#f0b030"]}, "legend": {"legendX": 236, "legendY": 74, "labelFontSize": 13.5, "symbolSize": 1296, "clipHeight": 15.5, "padding": 5}},
"detail": {"field": "seg"}
}
},
{
"data": {"name": "e"}, "width": 336, "height": 192,
"title": {"text": "e.", "dx": -38, "offset": 4, "fontSize": 19, "fontWeight": "normal"},
"mark": {"type": "line", "interpolate": "monotone", "strokeWidth": 2, "clip": true},
"encoding": {
"x": {"field": "cap", "type": "quantitative", "scale": {"domain": [0, 400], "nice": false, "zero": false}, "axis": {"values": [0, 50, 100, 150, 200, 250, 300, 350, 400], "title": "Capacity (mAh/g)", "titleY": 29, "labelPadding": 3}},
"y": {"field": "v", "type": "quantitative", "scale": {"domain": [1.27, 4.23], "nice": false, "zero": false}, "axis": {"values": [1.5, 2, 2.5, 3, 3.5, 4], "title": "Potential ( V vs Li\u207a/Li)", "titleX": -46}},
"color": {"field": "rate", "type": "nominal", "scale": {"domain": ["C/9", "C/6", "C/3", "C"], "range": ["#ff0000", "#6b6bff", "#106e10", "#7a2ea0"]}, "legend": {"legendX": 264, "legendY": 60, "labelFontWeight": "normal", "labelFontSize": 12, "labelColor": "#333"}},
"detail": {"field": "seg"}
}
},
{
"data": {"name": "f"}, "width": 338, "height": 192,
"title": {"text": "f.", "dx": -41, "offset": 4, "fontSize": 19, "fontWeight": "normal"},
"mark": {"type": "line", "interpolate": "monotone", "strokeWidth": 2, "clip": true},
"encoding": {
"x": {"field": "cap", "type": "quantitative", "scale": {"domain": [0, 534], "nice": false, "zero": false}, "axis": {"values": [0, 100, 200, 300, 400, 500], "title": "Capacity (mAh/g)", "titleY": 29, "labelPadding": 3}},
"y": {"field": "v", "type": "quantitative", "scale": {"domain": [1.26, 4.25], "nice": false, "zero": false}, "axis": {"values": [1.5, 2, 2.5, 3, 3.5, 4], "title": "Potential vs (V Li/Li\u207a)", "titleX": -49}},
"color": {"field": "rate", "type": "nominal", "scale": {"domain": ["C/9", "C/6", "C/3", "C"], "range": ["#ff0000", "#0000ff", "#158a15", "#f0b030"]}, "legend": {"legendX": 246, "legendY": 59, "clipHeight": 13}},
"detail": {"field": "seg"}
}
}
],
"config": {
"view": {"stroke": "#000", "strokeWidth": 1},
"title": {"font": "Lato", "fontSize": 25.5, "fontWeight": "bold", "color": "#000", "anchor": "start", "frame": "group", "subtitleFont": "Lato", "subtitleFontSize": 22, "subtitleColor": "#000"},
"axis": {"grid": false, "domainColor": "#000", "domainWidth": 2, "tickColor": "#000", "tickWidth": 1.5, "tickSize": 4, "labelFont": "DejaVu Sans", "labelFontWeight": "bold", "labelFontSize": 11, "labelColor": "#000", "labelPadding": 3, "labelFlush": false, "titleColor": "#000"},
"axisX": {"titleFont": "DejaVu Sans", "titleFontWeight": "bold", "titleFontSize": 10.5, "titleBaseline": "middle", "labelPadding": 5},
"axisY": {"format": ".1f", "titleFont": "Liberation Sans", "titleFontWeight": "normal", "titleFontSize": 9, "titleBaseline": "middle"},
"legend": {"orient": "none", "title": null, "symbolType": "stroke", "symbolStrokeWidth": 2, "symbolSize": 1089, "clipHeight": 12.5, "rowPadding": 0, "padding": 2, "strokeColor": "#888", "fillColor": "#fff", "labelFont": "DejaVu Sans", "labelFontWeight": "bold", "labelFontSize": 11, "labelColor": "#000", "labelOffset": 3}
}
}
